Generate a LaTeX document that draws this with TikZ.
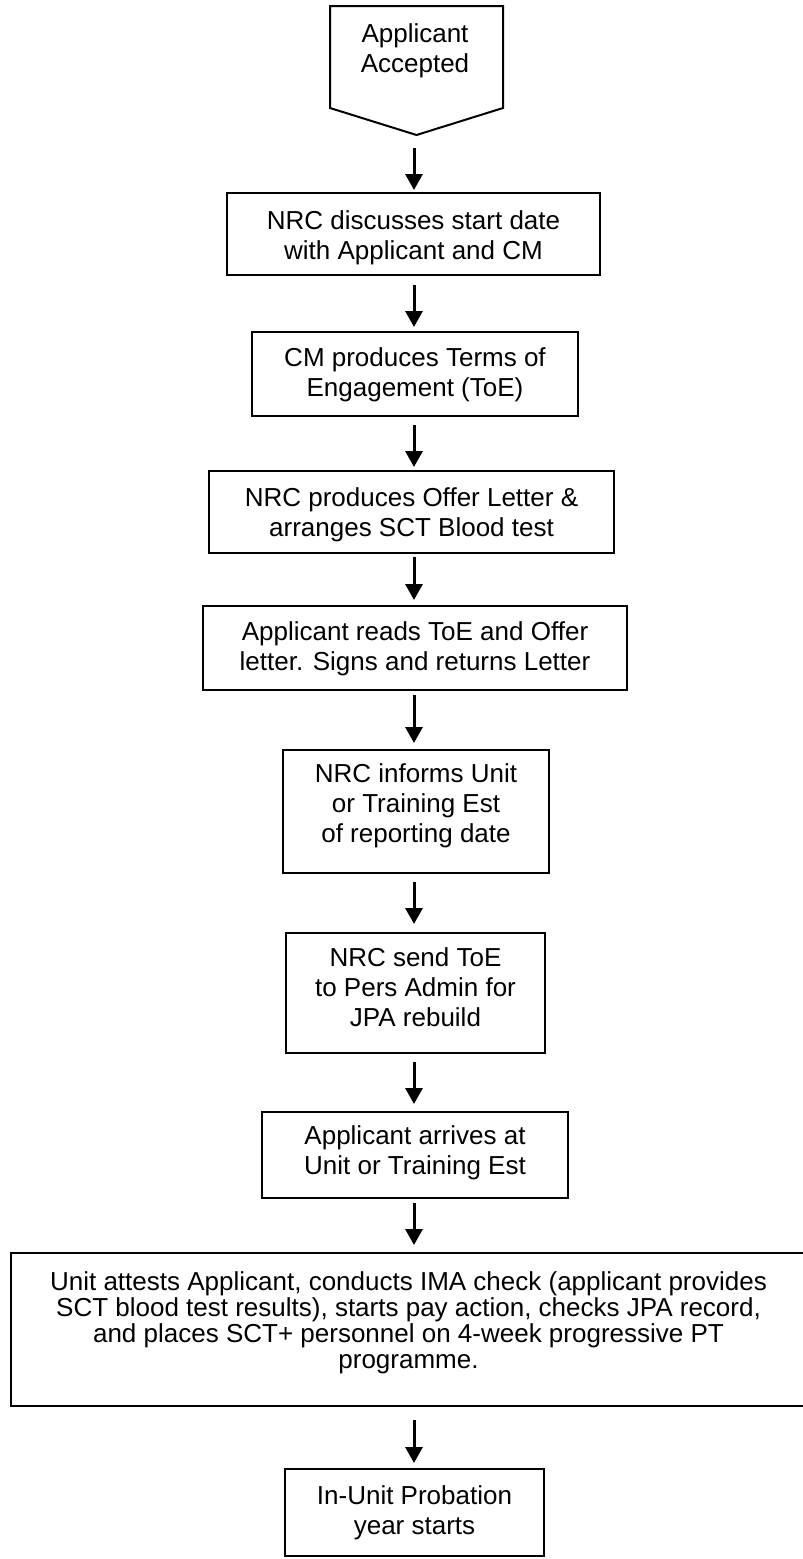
\documentclass[tikz,border=0pt]{standalone}
\usepackage{fontspec}
\setmainfont{Liberation Sans}
\usetikzlibrary{arrows.meta}
\begin{document}
\begin{tikzpicture}[x=1pt,y=-1pt,
  stepbox/.style={draw, line width=2.5pt, rectangle, inner sep=0pt, outer sep=0pt},
  boxtext/.style={align=center, inner sep=0pt, font=\fontsize{26}{30}\selectfont},
  tighttext/.style={align=center, inner sep=0pt, font=\fontsize{26}{26}\selectfont},
  flow/.style={line width=3pt, -{Triangle[length=16pt,width=17pt]}},
]
% page
\fill[white] (0,0) rectangle (803,1559);
\useasboundingbox (0,0) rectangle (803,1559);

% common x of the flow arrows
\coordinate (ax) at (414,0);

% start: off-page connector
\coordinate (acctip) at (416.5,135);
\draw[line width=2pt, line join=miter] (330,6) -- (503,6) -- (503,108) -- (acctip) -- (330,108) -- cycle;
\node[boxtext, anchor=north] (acc) at (415,23.7) {Applicant\\Accepted};

% process steps
\node[stepbox, minimum width=373pt, minimum height=82pt,
  label={[boxtext, anchor=north, yshift=-17.2pt]north:{NRC discusses start date\\with Applicant and CM}}]
  (b1) at (413.5,234) {};
\node[stepbox, minimum width=326pt, minimum height=84pt,
  label={[boxtext, anchor=north, yshift=-15.7pt]north:{CM produces Terms of\\Engagement (ToE)}}]
  (b2) at (415,374) {};
\node[stepbox, minimum width=405pt, minimum height=82pt,
  label={[boxtext, anchor=north, yshift=-16.7pt]north:{NRC produces Offer Letter \&\\arranges SCT Blood test}}]
  (b3) at (411.5,512) {};
\node[stepbox, minimum width=424pt, minimum height=84pt,
  label={[boxtext, anchor=north, yshift=-15.7pt]north:{Applicant reads ToE and Offer\\letter. Signs and returns Letter}}]
  (b4) at (415,648) {};
\node[stepbox, minimum width=266pt, minimum height=123pt,
  label={[boxtext, anchor=north, yshift=-13.7pt]north:{NRC informs Unit\\or Training Est\\of reporting date}}]
  (b5) at (416,811.5) {};
\node[stepbox, minimum width=259pt, minimum height=120pt,
  label={[boxtext, anchor=north, yshift=-14.7pt]north:{NRC send ToE\\to Pers Admin for\\JPA rebuild}}]
  (b6) at (415.5,993) {};
\node[stepbox, minimum width=306pt, minimum height=86pt,
  label={[boxtext, anchor=north, yshift=-13.7pt]north:{Applicant arrives at\\Unit or Training Est}}]
  (b7) at (415,1155) {};
\node[stepbox, minimum width=795pt, minimum height=153pt,
  label={[tighttext, anchor=north, yshift=-18.7pt]north:{Unit attests Applicant, conducts IMA check (applicant provides\\SCT blood test results), starts pay action, checks JPA record,\\and places SCT+ personnel on 4-week progressive PT\\programme.}}]
  (b8) at (408.5,1329.5) {};
\node[stepbox, minimum width=259pt, minimum height=87pt,
  label={[boxtext, anchor=north, yshift=-16.7pt]north:{In-Unit Probation\\year starts}}]
  (b9) at (414.5,1512.5) {};

% flow arrows
\draw[flow, shorten <=13pt, shorten >=3pt] (acctip -| ax) -- (b1.north -| ax);
\draw[flow, shorten <=10pt, shorten >=5pt] (b1.south -| ax) -- (b2.north -| ax);
\draw[flow, shorten <=9pt, shorten >=4pt] (b2.south -| ax) -- (b3.north -| ax);
\draw[flow, shorten <=4pt, shorten >=6pt] (b3.south -| ax) -- (b4.north -| ax);
\draw[flow, shorten <=5pt, shorten >=7pt] (b4.south -| ax) -- (b5.north -| ax);
\draw[flow, shorten <=9pt, shorten >=9pt] (b5.south -| ax) -- (b6.north -| ax);
\draw[flow, shorten <=9pt, shorten >=8pt] (b6.south -| ax) -- (b7.north -| ax);
\draw[flow, shorten <=5pt, shorten >=8pt] (b7.south -| ax) -- (b8.north -| ax);
\draw[flow, shorten <=14pt, shorten >=6pt] (b8.south -| ax) -- (b9.north -| ax);
\end{tikzpicture}
\end{document}
